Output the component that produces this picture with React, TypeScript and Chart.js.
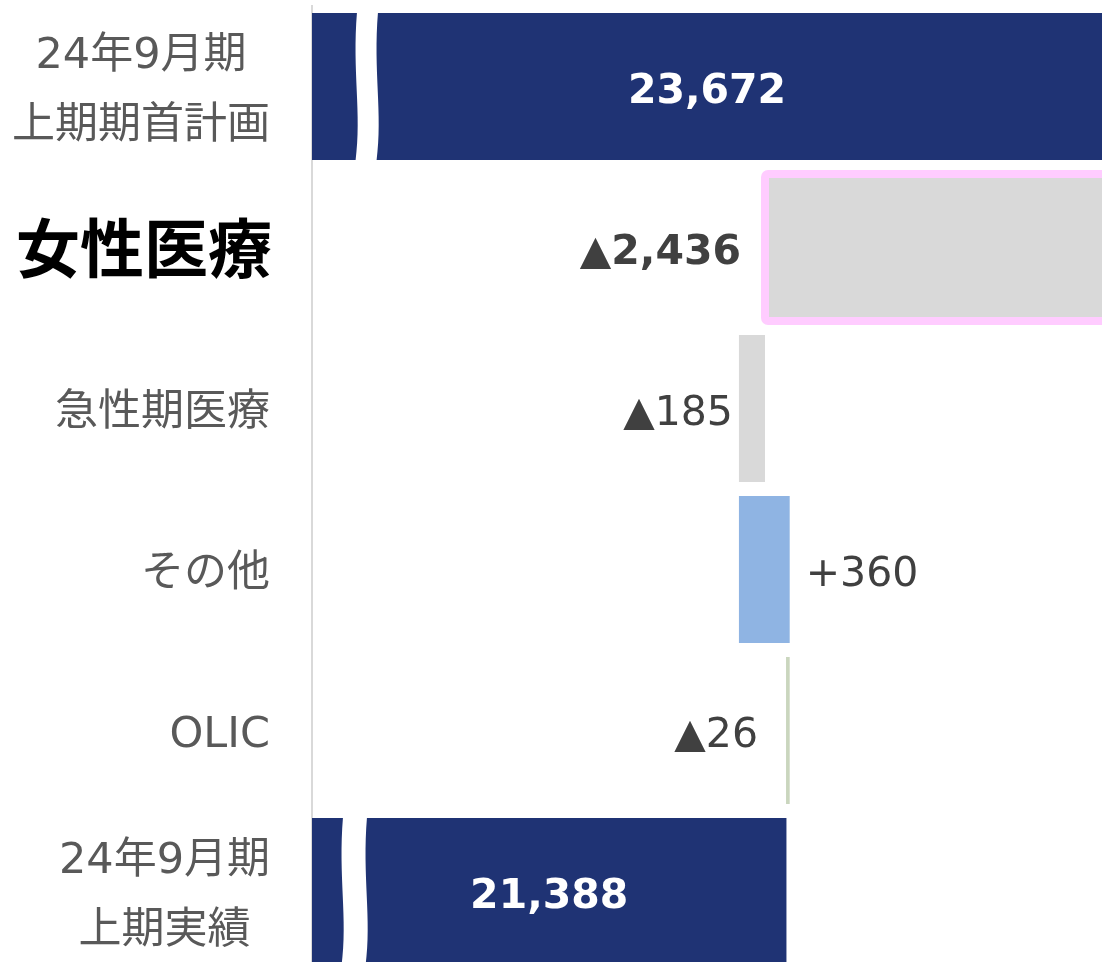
import React, { useEffect, useRef } from "react";
import { Chart, registerables } from "chart.js";

Chart.register(...registerables);

// ---- data ----
const categories: string[][] = [
  ["24年9月期", "上期期首計画"],
  ["女性医療"],
  ["急性期医療"],
  ["その他"],
  ["OLIC"],
  ["24年9月期", "上期実績"],
];
const kinds = ["total", "delta", "delta", "delta", "delta", "total"];
const values = [23672, -2436, -185, 360, -26, 21388];
const valueLabels = ["23,672", "▲2,436", "▲185", "+360", "▲26", "21,388"];
const barColors = ["#1F3374", "#D9D9D9", "#D9D9D9", "#8FB4E3", "#CAD6BE", "#1F3374"];
const xMin = 18023;
const xMax = 23626;

// ---- styling ----
const LATIN = '"DejaVu Sans", "Noto Sans CJK JP", sans-serif';
const CJK = '"DejaVu Sans", "Noto Sans CJK JP", sans-serif';
const labelGap = [0, 24, 6, 16, 28, 0];
const breakMarks: Record<number, { off: number; w: number }> = {
  0: { off: 45, w: 21 },
  5: { off: 31, w: 24 },
};

function buildRanges(): [number, number][] {
  let running = 0;
  return values.map((v, i) => {
    if (kinds[i] === "total") {
      running = v;
      return [0, v] as [number, number];
    }
    const start = running;
    running += v;
    return [start, running] as [number, number];
  });
}

const decorPlugin = {
  id: "decor",
  afterDatasetsDraw(chart: any) {
    const ctx: CanvasRenderingContext2D = chart.ctx;
    const area = chart.chartArea;
    const meta = chart.getDatasetMeta(0);
    ctx.save();
    meta.data.forEach((el: any, i: number) => {
      const p = el.getProps(["x", "y", "base", "height"], true);
      const left = Math.min(p.x, p.base);
      const right = Math.max(p.x, p.base);
      const top = p.y - p.height / 2;
      const bottom = p.y + p.height / 2;
      const h = p.height;

      // pink highlight border for 女性医療
      if (i === 1) {
        ctx.save();
        ctx.strokeStyle = "#FFCCFF";
        ctx.lineWidth = 8;
        ctx.lineJoin = "round";
        ctx.beginPath();
        (ctx as any).roundRect(left, top, right - left, h, 3);
        ctx.stroke();
        ctx.restore();
      }

      // axis break marks
      const bm = breakMarks[i];
      if (bm) {
        const x0 = area.left + bm.off;
        const x1 = x0 + bm.w;
        ctx.save();
        ctx.fillStyle = "#FFFFFF";
        ctx.beginPath();
        ctx.moveTo(x0, top - 1);
        ctx.bezierCurveTo(x0 - 5, top + h * 0.4, x0 + 5, top + h * 0.68, x0 - 1.5, bottom + 1);
        ctx.lineTo(x1 - 1.5, bottom + 1);
        ctx.bezierCurveTo(x1 + 5, top + h * 0.68, x1 - 5, top + h * 0.4, x1, top - 1);
        ctx.closePath();
        ctx.fill();
        ctx.restore();
      }

      // value labels
      ctx.textBaseline = "middle";
      const ty = p.y + 6;
      if (kinds[i] === "total") {
        const vl = Math.max(left, area.left);
        const vr = Math.min(right, area.right);
        ctx.font = `bold 41px ${LATIN}`;
        ctx.fillStyle = "#FFFFFF";
        ctx.textAlign = "center";
        ctx.fillText(valueLabels[i], (vl + vr) / 2, ty);
      } else {
        ctx.font = i === 1 ? `bold 41px ${LATIN}` : `41px ${LATIN}`;
        ctx.fillStyle = "#404040";
        if (values[i] < 0) {
          ctx.textAlign = "right";
          ctx.fillText(valueLabels[i], left - labelGap[i], ty);
        } else {
          ctx.textAlign = "left";
          ctx.fillText(valueLabels[i], right + labelGap[i], ty);
        }
      }
    });
    ctx.restore();
  },
  afterDraw(chart: any) {
    const ctx: CanvasRenderingContext2D = chart.ctx;
    const yScale = chart.scales.y;
    ctx.save();
    ctx.textBaseline = "middle";
    categories.forEach((lines, i) => {
      const cy = yScale.getPixelForValue(i);
      if (i === 1) {
        ctx.font = `bold 64px ${CJK}`;
        ctx.fillStyle = "#000000";
        ctx.textAlign = "right";
        ctx.fillText(lines[0], 272, cy + 8);
        return;
      }
      ctx.font = `43px ${CJK}`;
      ctx.fillStyle = "#595959";
      if (lines.length === 1) {
        ctx.textAlign = "right";
        ctx.fillText(lines[0], 270, cy + 5);
      } else {
        const maxW = Math.max(...lines.map((l) => ctx.measureText(l).width));
        const cx = 270 - maxW / 2;
        ctx.textAlign = "center";
        lines.forEach((l, k) => {
          const ly = cy + 5 + (k === 0 ? -35 : 35);
          ctx.fillText(l, cx, ly);
        });
      }
    });
    ctx.restore();
  },
};

export default function App() {
  const canvasRef = useRef<HTMLCanvasElement | null>(null);

  useEffect(() => {
    document.body.style.margin = "0";
    document.documentElement.style.overflow = "hidden";
    const canvas = canvasRef.current;
    if (!canvas) return;
    const chart = new Chart(canvas, {
      type: "bar",
      data: {
        labels: categories.map((c) => c.join(" ")),
        datasets: [
          {
            data: buildRanges() as any,
            backgroundColor: barColors,
            borderWidth: 0,
            borderSkipped: false,
            categoryPercentage: 1,
            barPercentage: 0.913,
          },
        ],
      },
      options: {
        indexAxis: "y",
        responsive: false,
        animation: false,
        devicePixelRatio: 1,
        layout: { padding: { top: 6, right: 0, left: 0, bottom: 0 } },
        plugins: {
          legend: { display: false },
          tooltip: { enabled: false },
        },
        scales: {
          x: { display: false, min: xMin, max: xMax },
          y: {
            grid: { display: false, drawTicks: false },
            border: { display: true, color: "#D9D9D9", width: 2 },
            ticks: { display: false },
            afterFit: (s: any) => {
              s.width = 312;
            },
          },
        },
      },
      plugins: [decorPlugin],
    });
    return () => chart.destroy();
  }, []);

  return (
    <div style={{ width: 1102, height: 962, overflow: "hidden", position: "relative" }}>
      <canvas ref={canvasRef} width={1102} height={972} style={{ display: "block" }} />
    </div>
  );
}
